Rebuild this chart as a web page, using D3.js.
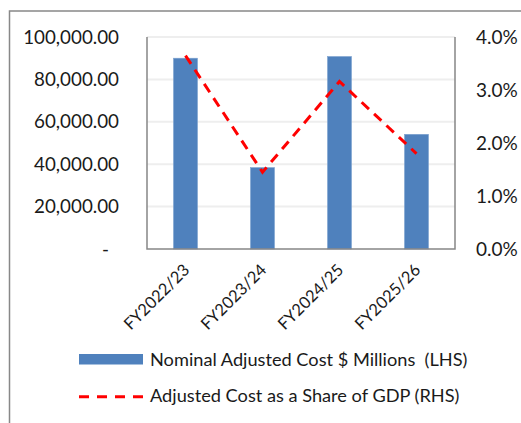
<!DOCTYPE html>
<html>

<head>
  <meta charset="utf-8">
  <title>Adjusted Cost</title>
  <script src="https://cdnjs.cloudflare.com/ajax/libs/d3/7.8.5/d3.min.js"></script>
  <style>
    html,
    body {
      margin: 0;
      padding: 0;
      background: #fff;
    }

    svg text {
      font-family: Lato, "Open Sans", sans-serif;
      fill: #1a1a1a;
    }
  </style>
</head>

<body>
  <svg id="chart" width="521" height="423"></svg>
  <script>
    // data
    let categories = ['FY2022/23', 'FY2023/24', 'FY2024/25', 'FY2025/26']
    let costs = [90000, 38400, 90800, 54100] // $ millions, LHS
    let shares = [0.0365, 0.0145, 0.0316, 0.018] // share of GDP, RHS
    let costTicks = [0, 20000, 40000, 60000, 80000, 100000]
    let shareTicks = [0, 0.01, 0.02, 0.03, 0.04]
    let legendLabels = ['Nominal Adjusted Cost $ Millions  (LHS)', 'Adjusted Cost as a Share of GDP (RHS)']

    let colorBar = '#4f81bd'
    let colorLine = '#ff0000'
    let plot = { left: 147, right: 455, top: 37, bottom: 249 }
    let barWidth = 24

    let svg = d3.select('#chart')

    // outer frame (runs off the right and bottom of the picture)
    svg.append('rect')
      .attr('x', 9.5).attr('y', 11)
      .attr('width', 530).attr('height', 430)
      .attr('fill', 'none')
      .attr('stroke', '#888')
      .attr('stroke-width', 1.5)

    let x = d3.scaleBand()
      .domain(categories)
      .range([plot.left, plot.right])
      .paddingInner(0.69)
      .paddingOuter(0.345)

    let y = d3.scaleLinear().domain([0, 100000]).range([plot.bottom, plot.top])
    let y2 = d3.scaleLinear().domain([0, 0.04]).range([plot.bottom, plot.top])

    const mid = (c) => x(c) + x.bandwidth() / 2

    // gridlines
    svg.append('g')
      .selectAll('line')
      .data(costTicks.filter(d => d > 0))
      .join('line')
      .attr('x1', plot.left).attr('x2', plot.right)
      .attr('y1', d => y(d)).attr('y2', d => y(d))
      .attr('stroke', '#eeeeee')
      .attr('stroke-width', 2)

    // bars
    svg.append('g')
      .selectAll('rect')
      .data(costs)
      .join('rect')
      .attr('x', (d, i) => mid(categories[i]) - barWidth / 2)
      .attr('y', d => y(d))
      .attr('width', barWidth)
      .attr('height', d => y(0) - y(d))
      .attr('fill', colorBar)
      .attr('stroke', '#7ea2cf')
      .attr('stroke-width', 0.6)

    // axis lines
    let axisColor = '#878787'
    svg.append('path')
      .attr('d', `M${plot.left},${plot.top}V${plot.bottom}H${plot.right}V${plot.top}`)
      .attr('fill', 'none')
      .attr('stroke', axisColor)
      .attr('stroke-width', 1.5)

    // share line
    let line = d3.line()
      .x((d, i) => mid(categories[i]))
      .y(d => y2(d))

    svg.append('path')
      .datum(shares)
      .attr('d', line)
      .attr('fill', 'none')
      .attr('stroke', colorLine)
      .attr('stroke-width', 3)
      .attr('stroke-dasharray', '10,7')

    // left axis
    let fmtCost = d3.format(',.2f')
    let leftAxis = svg.append('g')
      .attr('transform', `translate(${plot.left},0)`)
      .call(d3.axisLeft(y)
        .tickValues(costTicks)
        .tickSize(0)
        .tickPadding(28)
        .tickFormat(d => d === 0 ? '-' : fmtCost(d)))
    leftAxis.select('.domain').remove()
    leftAxis.selectAll('text')
      .style('font-size', '18.8px')
      .attr('dx', d => d === 0 ? -10 : 0)

    // right axis
    let rightAxis = svg.append('g')
      .attr('transform', `translate(${plot.right},0)`)
      .call(d3.axisRight(y2)
        .tickValues(shareTicks)
        .tickSize(0)
        .tickPadding(21)
        .tickFormat(d3.format('.1%')))
    rightAxis.select('.domain').remove()
    rightAxis.selectAll('text').style('font-size', '19px')

    // category labels, tilted
    svg.append('g')
      .selectAll('text')
      .data(categories)
      .join('text')
      .attr('transform', d => `translate(${mid(d) + 5},${plot.bottom + 22}) rotate(-45)`)
      .attr('text-anchor', 'end')
      .style('font-size', '16.5px')
      .text(d => d)

    // legend
    let legend = svg.append('g')
    legend.append('rect')
      .attr('x', 79).attr('y', 354)
      .attr('width', 64).attr('height', 10.5)
      .attr('fill', colorBar)
    legend.append('line')
      .attr('x1', 79).attr('x2', 143)
      .attr('y1', 396.7).attr('y2', 396.7)
      .attr('stroke', colorLine)
      .attr('stroke-width', 3)
      .attr('stroke-dasharray', '10,8')
    legend.selectAll('text')
      .data(legendLabels)
      .join('text')
      .attr('x', 150)
      .attr('y', (d, i) => i === 0 ? 365.5 : 402)
      .style('font-size', '18.2px')
      .style('white-space', 'pre')
      .text(d => d)
  </script>
</body>

</html>
